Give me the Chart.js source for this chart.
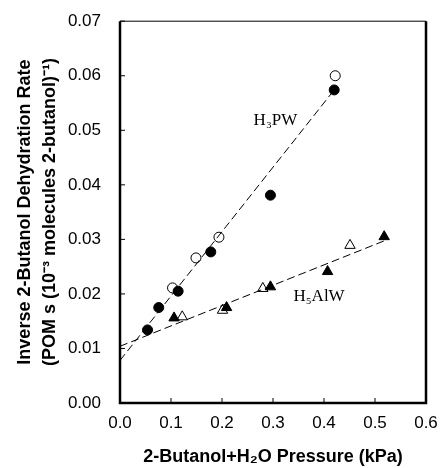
<!DOCTYPE html>
<html lang="en">
<head>
	<meta charset="UTF-8">
	<title>butanol</title>
	<script src="https://cdn.jsdelivr.net/npm/chart.js@4/dist/chart.umd.min.js"></script>
	<style>
		body{margin:0;background:#fff;}
		#wrap{width:441px;height:468px;}
	</style>
</head>
<body>
	<div id="wrap"><canvas id="chart" width="441" height="468"></canvas></div>

	<script>

		// H3PW, filled and open circles
		var pwFilledX=[0.054,0.076,0.114,0.178,0.295,0.420];
		var pwFilledY=[0.0134,0.0175,0.0205,0.0277,0.0381,0.0574];
		var pwOpenX=[0.103,0.149,0.194,0.422];
		var pwOpenY=[0.0211,0.0266,0.0304,0.0600];

		// H5AlW, filled and open triangles
		var alFilledX=[0.106,0.209,0.295,0.407,0.518];
		var alFilledY=[0.0156,0.0175,0.0213,0.0241,0.0305];
		var alOpenX=[0.122,0.201,0.280,0.451];
		var alOpenY=[0.0158,0.0170,0.0210,0.0289];

		// fitted lines (end points)
		var pwFitX=[0.0,0.42];
		var pwFitY=[0.0078,0.0574];
		var alFitX=[0.0,0.52];
		var alFitY=[0.0104,0.0298];

		var xTicks=["0.0","0.1","0.2","0.3","0.4","0.5","0.6"];
		var yTicks=["0.00","0.01","0.02","0.03","0.04","0.05","0.06","0.07"];

		var xTitle="2-Butanol+H₂O Pressure (kPa)";
		var yTitle=["Inverse 2-Butanol Dehydration Rate","(POM s (10⁻³ molecules 2-butanol)⁻¹)"];

		var labels=[
			{text:"H₃PW",x:0.262,y:0.0518},
			{text:"H₅AlW",x:0.340,y:0.0195}
		];

		function pts(xs,ys){
			return xs.map(function(x,i){ return {x:x,y:ys[i]}; });
		}

		var framePlugin={
			id:"frame",
			afterDraw:function(chart){
				var ctx=chart.ctx, a=chart.chartArea;
				var xs=chart.scales.x, ys=chart.scales.y;
				ctx.save();
				ctx.strokeStyle="#000";
				// inward ticks
				ctx.lineWidth=1;
				xTicks.forEach(function(t){
					var px=xs.getPixelForValue(+t);
					ctx.beginPath();ctx.moveTo(px,a.bottom);ctx.lineTo(px,a.bottom-5);ctx.stroke();
				});
				yTicks.forEach(function(t){
					var py=ys.getPixelForValue(+t);
					ctx.beginPath();ctx.moveTo(a.left,py);ctx.lineTo(a.left+5,py);ctx.stroke();
				});
				// frame
				ctx.lineWidth=1;
				ctx.beginPath();ctx.moveTo(a.left,a.top);ctx.lineTo(a.right,a.top);ctx.stroke();
				ctx.lineWidth=2.5;
				ctx.beginPath();
				ctx.moveTo(a.left,a.top);ctx.lineTo(a.left,a.bottom);ctx.lineTo(a.right,a.bottom);ctx.lineTo(a.right,a.top);
				ctx.stroke();

				// series labels
				ctx.fillStyle="#000";
				ctx.font="17px 'Liberation Serif'";
				ctx.textAlign="left";ctx.textBaseline="middle";
				labels.forEach(function(l){
					ctx.fillText(l.text,xs.getPixelForValue(l.x),ys.getPixelForValue(l.y));
				});

				// x title
				ctx.font="bold 18px 'Liberation Sans'";
				ctx.textAlign="center";
				ctx.fillText(xTitle,(a.left+a.right)/2,a.bottom+54);

				// y title, two lines
				ctx.translate(25,(a.top+a.bottom)/2);
				ctx.rotate(-Math.PI/2);
				ctx.fillText(yTitle[0],0,0);
				ctx.fillText(yTitle[1],0,25);
				ctx.restore();
			}
		};

		new Chart(document.getElementById("chart"),{
			type:"scatter",
			data:{
				datasets:[
					{data:pts(pwFitX,pwFitY),showLine:true,borderColor:"#000",borderWidth:1,borderDash:[8,4],pointRadius:0},
					{data:pts(alFitX,alFitY),showLine:true,borderColor:"#000",borderWidth:1,borderDash:[8,4],pointRadius:0},
					{data:pts(pwFilledX,pwFilledY),pointStyle:"circle",pointRadius:5,backgroundColor:"#000",borderColor:"#000",borderWidth:1},
					{data:pts(pwOpenX,pwOpenY),pointStyle:"circle",pointRadius:5,backgroundColor:"#fff",borderColor:"#000",borderWidth:1},
					{data:pts(alFilledX,alFilledY),pointStyle:"triangle",pointRadius:6,backgroundColor:"#000",borderColor:"#000",borderWidth:1},
					{data:pts(alOpenX,alOpenY),pointStyle:"triangle",pointRadius:6,backgroundColor:"#fff",borderColor:"#000",borderWidth:1}
				]
			},
			options:{
				responsive:false,
				animation:false,
				layout:{padding:{left:0,right:15,top:18,bottom:0}},
				plugins:{legend:{display:false},tooltip:{enabled:false}},
				scales:{
					x:{
						type:"linear",min:0,max:0.6,
						afterBuildTicks:function(s){ s.ticks=xTicks.map(function(t){return {value:+t};}); },
						afterFit:function(s){ s.height=65; },
						grid:{display:false},
						border:{display:false},
						ticks:{color:"#000",font:{family:"'Liberation Sans'",size:17},padding:2,maxRotation:0,
							callback:function(v){ return (+v).toFixed(1); }}
					},
					y:{
						type:"linear",min:0,max:0.07,
						afterBuildTicks:function(s){ s.ticks=yTicks.map(function(t){return {value:+t};}); },
						afterFit:function(s){ s.width=120; },
						grid:{display:false},
						border:{display:false},
						ticks:{color:"#000",font:{family:"'Liberation Sans'",size:17},padding:11,
							callback:function(v){ return (+v).toFixed(2); }}
					}
				}
			},
			plugins:[framePlugin]
		});

	</script>

</body>
</html>
